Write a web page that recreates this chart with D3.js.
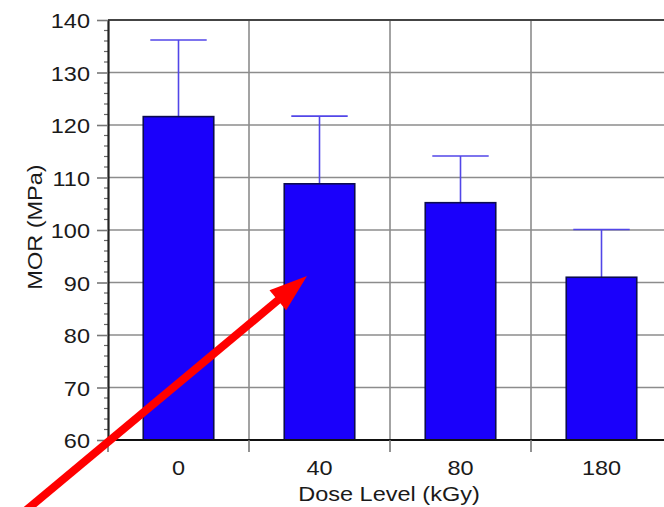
<!DOCTYPE html>
<html>
<head>
<meta charset="utf-8">
<script src="https://cdn.jsdelivr.net/npm/d3@7"></script>
<style>
  html, body { margin: 0; padding: 0; background: #fff; }
  svg { display: block; }
  text { font-family: "Liberation Sans", Arial, Helvetica, sans-serif; fill: #1a1a1a; }
</style>
</head>
<body>
<svg id="chart" width="664" height="507"></svg>
<script>
// Dose levels (kGy) and mean modulus of rupture with standard deviation
const doseLabels = ["0", "40", "80", "180"];
const morMean = [121.6, 108.8, 105.2, 91.0];
const morSD = [14.6, 12.9, 8.9, 9.1];
const yTicks = [60, 70, 80, 90, 100, 110, 120, 130, 140];

const svg = d3.select("#chart");
const plot = { left: 108, top: 20, bottom: 440, right: 672 };
const FONT = 21, STRETCH = 1.12;

// place a horizontally widened label with its anchor at (px, py)
function wideText(sel, px, py) {
  return sel.attr("x", 0).attr("y", 0)
    .attr("transform", `translate(${px},${py}) scale(${STRETCH},1)`)
    .style("font-size", FONT + "px");
}

const x = d3.scaleBand()
  .domain(doseLabels)
  .range([plot.left, plot.right])
  .padding(0);

const y = d3.scaleLinear()
  .domain([60, 140])
  .range([plot.bottom, plot.top]);

const step = x.step();
const barW = step * 0.5;
const capW = step * 0.4;

// horizontal grid
svg.append("g")
  .selectAll("line")
  .data(yTicks.filter(t => t > 60 && t < 140))
  .join("line")
  .attr("x1", plot.left).attr("x2", plot.right)
  .attr("y1", d => y(d)).attr("y2", d => y(d))
  .attr("stroke", "#8c8c8c").attr("stroke-width", 1.6);

// vertical grid at category boundaries
svg.append("g")
  .selectAll("line")
  .data(doseLabels.slice(1))
  .join("line")
  .attr("x1", d => x(d)).attr("x2", d => x(d))
  .attr("y1", plot.top).attr("y2", plot.bottom)
  .attr("stroke", "#8c8c8c").attr("stroke-width", 1.6);

// error bars (upper whisker only)
const eb = svg.append("g").attr("stroke", "#5246e8").attr("stroke-width", 1.6);
doseLabels.forEach((d, i) => {
  const cx = x(d) + step / 2;
  const top = y(morMean[i] + morSD[i]);
  eb.append("line")
    .attr("x1", cx).attr("x2", cx)
    .attr("y1", y(morMean[i])).attr("y2", top);
  eb.append("line")
    .attr("x1", cx - capW / 2).attr("x2", cx + capW / 2)
    .attr("y1", top).attr("y2", top);
});

// bars
svg.append("g")
  .selectAll("rect")
  .data(doseLabels)
  .join("rect")
  .attr("x", d => x(d) + (step - barW) / 2)
  .attr("y", (d, i) => y(morMean[i]))
  .attr("width", barW)
  .attr("height", (d, i) => y(60) - y(morMean[i]))
  .attr("fill", "#1a00fb")
  .attr("stroke", "#0c0c50")
  .attr("stroke-width", 1.6);

// frame: top edge
svg.append("line")
  .attr("x1", plot.left).attr("x2", plot.right)
  .attr("y1", plot.top).attr("y2", plot.top)
  .attr("stroke", "#444").attr("stroke-width", 2.2);

// y axis with minor ticks
const minorTicks = d3.range(60, 140.001, 2).filter(v => v % 10 !== 0);
svg.append("g")
  .selectAll("line")
  .data(minorTicks)
  .join("line")
  .attr("x1", plot.left - 4).attr("x2", plot.left)
  .attr("y1", d => y(d)).attr("y2", d => y(d))
  .attr("stroke", "#666").attr("stroke-width", 1.2);

const yAxis = svg.append("g")
  .attr("transform", `translate(${plot.left},0)`)
  .call(d3.axisLeft(y).tickValues(yTicks).tickSize(11).tickPadding(7).tickSizeOuter(0));
yAxis.select(".domain").attr("stroke", "#222").attr("stroke-width", 2.2);
yAxis.selectAll(".tick line").attr("stroke", "#777").attr("stroke-width", 1.6);
yAxis.selectAll(".tick text")
  .attr("dy", null)
  .style("font-family", "'Liberation Sans', Arial, sans-serif")
  .attr("fill", "#1a1a1a")
  .each(function () { wideText(d3.select(this), -18, 7.5); });

// x axis: ticks at category boundaries, labels at centres
const xAxisG = svg.append("g");
xAxisG.append("line")
  .attr("x1", plot.left - 1).attr("x2", plot.right)
  .attr("y1", plot.bottom).attr("y2", plot.bottom)
  .attr("stroke", "#111").attr("stroke-width", 2.2);
xAxisG.selectAll("line.tick")
  .data(doseLabels)
  .join("line")
  .attr("class", "tick")
  .attr("x1", d => x(d)).attr("x2", d => x(d))
  .attr("y1", plot.bottom).attr("y2", plot.bottom + 12)
  .attr("stroke", "#777").attr("stroke-width", 1.6);
xAxisG.selectAll("text")
  .data(doseLabels)
  .join("text")
  .attr("text-anchor", "middle")
  .text(d => d)
  .each(function (d) { wideText(d3.select(this), x(d) + step / 2, plot.bottom + 35); });

// axis titles
wideText(svg.append("text").attr("text-anchor", "middle").text("Dose Level (kGy)"), 389, 501);

svg.append("text")
  .attr("transform", `translate(42,227) rotate(-90) scale(${STRETCH},1)`)
  .attr("text-anchor", "middle")
  .style("font-size", FONT + "px")
  .text("MOR (MPa)");

// red pointer arrow toward the 40 kGy bar
const tail = [24, 512], tip = [307, 276];
const ang = Math.atan2(tip[1] - tail[1], tip[0] - tail[0]);
const headLen = 38, headHalf = 13;
const base = [tip[0] - headLen * Math.cos(ang), tip[1] - headLen * Math.sin(ang)];
svg.append("line")
  .attr("x1", tail[0]).attr("y1", tail[1])
  .attr("x2", base[0] + 4 * Math.cos(ang)).attr("y2", base[1] + 4 * Math.sin(ang))
  .attr("stroke", "#ff0000").attr("stroke-width", 8);
const px = -Math.sin(ang), py = Math.cos(ang);
svg.append("path")
  .attr("d", d3.line()([
    tip,
    [base[0] + headHalf * px, base[1] + headHalf * py],
    [base[0] - headHalf * px, base[1] - headHalf * py]
  ]) + "Z")
  .attr("fill", "#ff0000");
</script>
</body>
</html>
